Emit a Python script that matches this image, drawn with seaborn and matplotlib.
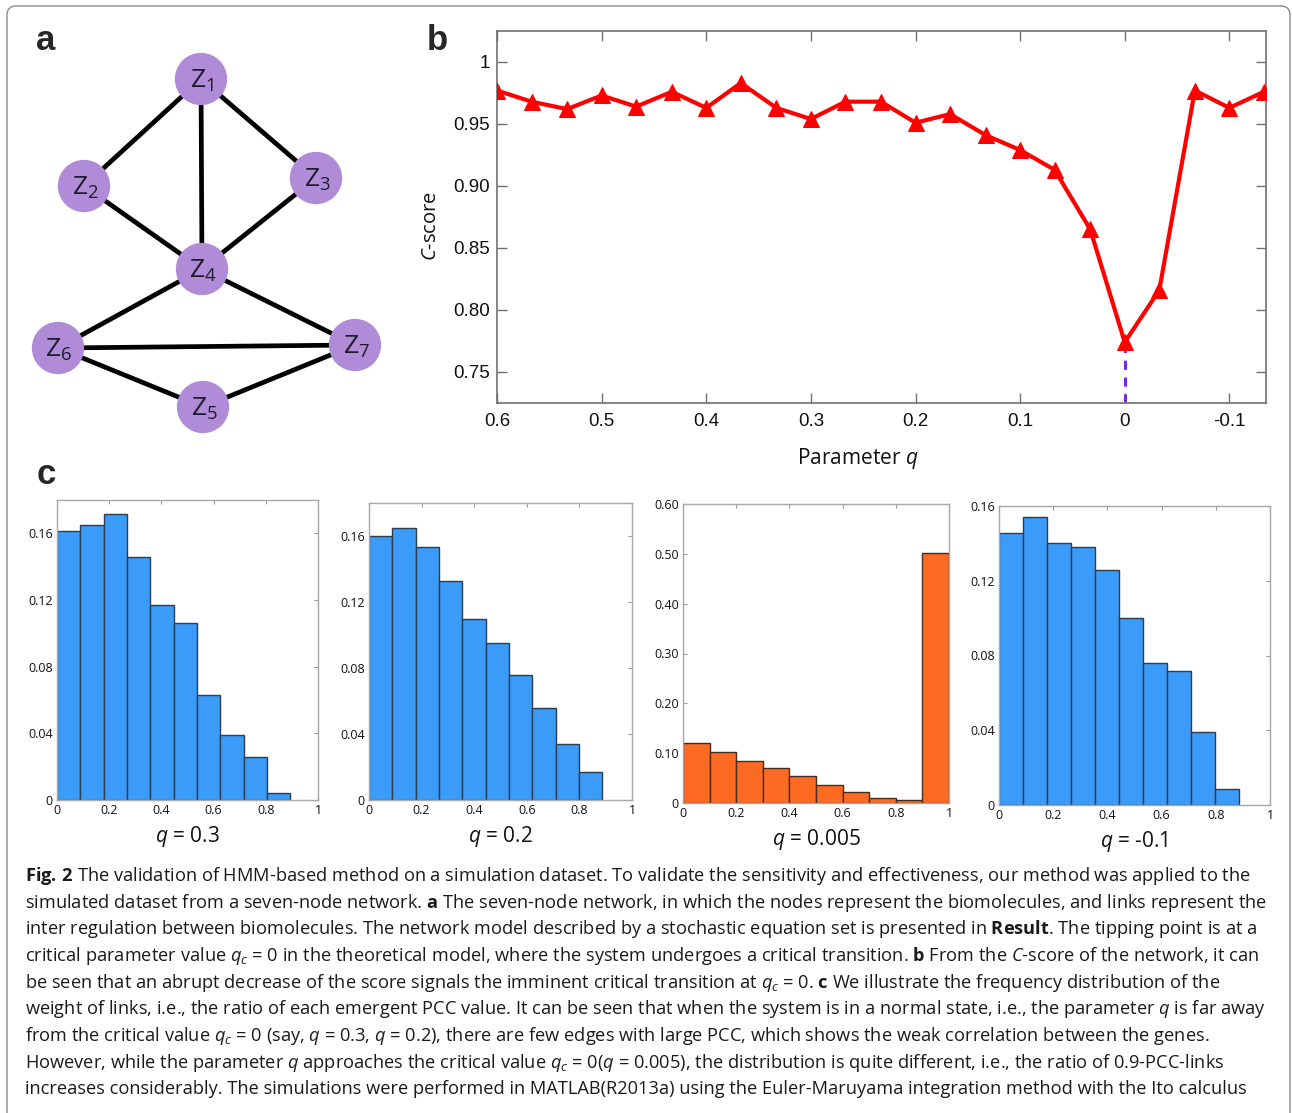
import numpy as np
import pandas as pd
import matplotlib
matplotlib.use("Agg")
import matplotlib.pyplot as plt
import seaborn as sns
from matplotlib.patches import FancyBboxPatch
from matplotlib.transforms import IdentityTransform

# ---------------- data ----------------
node_ids = [1, 2, 3, 4, 5, 6, 7]
node_x = [201, 84, 316, 202, 203, 58, 355]
node_y = [79, 186, 178, 269, 407, 348, 345]
edge_list = [(1, 2), (1, 3), (1, 4), (2, 4), (3, 4), (4, 6), (4, 7), (6, 7), (6, 5), (7, 5)]

q_values = [0.6, 0.567, 0.533, 0.5, 0.467, 0.433, 0.4, 0.367, 0.333, 0.3, 0.267, 0.233,
            0.2, 0.167, 0.133, 0.1, 0.067, 0.033, 0.0, -0.033, -0.067, -0.1, -0.133]
c_score = [0.977, 0.968, 0.962, 0.973, 0.964, 0.976, 0.963, 0.983, 0.963, 0.954, 0.968, 0.968,
           0.951, 0.958, 0.941, 0.929, 0.913, 0.865, 0.774, 0.816, 0.977, 0.963, 0.976]
b_xticks = [0.6, 0.5, 0.4, 0.3, 0.2, 0.1, 0.0, -0.1]
b_xticklabels = ["0.6", "0.5", "0.4", "0.3", "0.2", "0.1", "0", "-0.1"]
b_yticks = [0.75, 0.80, 0.85, 0.90, 0.95, 1.0]
b_yticklabels = ["0.75", "0.80", "0.85", "0.90", "0.95", "1"]

hist_titles = ["0.3", "0.2", "0.005", "-0.1"]
freq_q03 = [0.1616, 0.1652, 0.1718, 0.1460, 0.1170, 0.1063, 0.0629, 0.0388, 0.0260, 0.0042]
freq_q02 = [0.1600, 0.1648, 0.1536, 0.1330, 0.1098, 0.0951, 0.0758, 0.0560, 0.0340, 0.0171]
freq_q0005 = [0.1207, 0.1020, 0.0833, 0.0707, 0.0540, 0.0353, 0.0220, 0.0107, 0.0053, 0.5013]
freq_qm01 = [0.1457, 0.1539, 0.1400, 0.1379, 0.1257, 0.1000, 0.0759, 0.0718, 0.0388, 0.0088]
hist_upper_edge = [0.894, 0.887, 1.0, 0.887]
hist_ylim = [0.18, 0.18, 0.60, 0.16]
hist_yticks = [[0, 0.04, 0.08, 0.12, 0.16], [0, 0.04, 0.08, 0.12, 0.16],
               [0, 0.1, 0.2, 0.3, 0.4, 0.5, 0.6], [0, 0.04, 0.08, 0.12, 0.16]]
hist_yticklabels = [["0", "0.04", "0.08", "0.12", "0.16"], ["0", "0.04", "0.08", "0.12", "0.16"],
                    ["0", "0.10", "0.20", "0.30", "0.40", "0.50", "0.60"],
                    ["0", "0.04", "0.08", "0.12", "0.16"]]
hist_xticks = [0, 0.2, 0.4, 0.6, 0.8, 1.0]
hist_xticklabels = ["0", "0.2", "0.4", "0.6", "0.8", "1"]

caption_lines = [
    r"$\mathbf{Fig.\,2}$ The validation of HMM-based method on a simulation dataset. To validate the sensitivity and effectiveness, our method was applied to the",
    r"simulated dataset from a seven-node network. $\mathbf{a}$ The seven-node network, in which the nodes represent the biomolecules, and links represent the",
    r"inter regulation between biomolecules. The network model described by a stochastic equation set is presented in $\mathbf{Result}$. The tipping point is at a",
    r"critical parameter value $q_c$ = 0 in the theoretical model, where the system undergoes a critical transition. $\mathbf{b}$ From the $\mathit{C}$-score of the network, it can",
    r"be seen that an abrupt decrease of the score signals the imminent critical transition at $q_c$ = 0. $\mathbf{c}$ We illustrate the frequency distribution of the",
    r"weight of links, i.e., the ratio of each emergent PCC value. It can be seen that when the system is in a normal state, i.e., the parameter $q$ is far away",
    r"from the critical value $q_c$ = 0 (say, $q$ = 0.3, $q$ = 0.2), there are few edges with large PCC, which shows the weak correlation between the genes.",
    r"However, while the parameter $q$ approaches the critical value $q_c$ = 0($q$ = 0.005), the distribution is quite different, i.e., the ratio of 0.9-PCC-links",
    r"increases considerably. The simulations were performed in MATLAB(R2013a) using the Euler-Maruyama integration method with the Ito calculus",
]

# ---------------- style ----------------
sns.set_style("ticks")
plt.rcParams["font.family"] = ["Open Sans", "DejaVu Sans"]
plt.rcParams["mathtext.fontset"] = "custom"
plt.rcParams["mathtext.rm"] = "Open Sans"
plt.rcParams["mathtext.it"] = "Open Sans:italic"
plt.rcParams["mathtext.bf"] = "Open Sans:bold"
plt.rcParams["mathtext.sf"] = "Open Sans"
plt.rcParams["axes.unicode_minus"] = False

W, H = 1292, 1113
fig = plt.figure(figsize=(W / 100, H / 100), dpi=100)
fig.patch.set_facecolor("white")


def px_axes(l, t, r, b):
    return fig.add_axes([l / W, 1 - b / H, (r - l) / W, (b - t) / H])


# outer rounded frame
frame = FancyBboxPatch((7, -30), 1283, 1137, boxstyle="round,pad=0,rounding_size=9",
                       transform=IdentityTransform(), facecolor="none",
                       edgecolor="#8a8a8a", linewidth=1.0)
fig.add_artist(frame)

# ---------------- panel a: network ----------------
ax_a = px_axes(0, 0, 420, 450)
pos = {n: (x, y) for n, x, y in zip(node_ids, node_x, node_y)}
for u, v in edge_list:
    ax_a.plot([pos[u][0], pos[v][0]], [pos[u][1], pos[v][1]], color="black",
              lw=3.4, solid_capstyle="butt", zorder=1)
nodes_df = pd.DataFrame({"x": node_x, "y": node_y, "id": node_ids})
sns.scatterplot(data=nodes_df, x="x", y="y", s=1420, color="#b08bd8",
                edgecolor="none", ax=ax_a, zorder=3, legend=False)
for n, x, y in zip(node_ids, node_x, node_y):
    ax_a.text(x + 1, y + 2, r"$\mathrm{Z}_{%d}$" % n, ha="center", va="center",
              fontsize=19, color="#1c1c2c", zorder=4)
ax_a.set_xlim(0, 420)
ax_a.set_ylim(450, 0)
ax_a.axis("off")

# ---------------- panel b: C-score ----------------
ax_b = px_axes(497, 31, 1266, 403)
df_b = pd.DataFrame({"q": q_values, "c": c_score})
sns.lineplot(data=df_b, x="q", y="c", color="#ff0000", lw=3.0, marker="^",
             markersize=12, markeredgecolor="#ff0000", ax=ax_b, zorder=3)
qmin = df_b.loc[df_b["c"].idxmin(), "q"]
cmin = df_b["c"].min()
ax_b.set_xlim(0.6, -0.135)
ax_b.set_ylim(0.725, 1.025)
ax_b.plot([qmin, qmin], [0.725, cmin], color="#7a2be0", lw=2.2, ls=(0, (3, 2.5)), zorder=2)
ax_b.set_xticks(b_xticks)
ax_b.set_xticklabels(b_xticklabels)
ax_b.set_yticks(b_yticks)
ax_b.set_yticklabels(b_yticklabels)
ax_b.tick_params(direction="in", top=True, right=True, length=7, width=1.0,
                 color="#6f6f6f", labelsize=13.5, labelcolor="#111111")
ax_b.tick_params(axis="x", pad=7)
ax_b.tick_params(axis="y", pad=5)
for lab in ax_b.get_xticklabels() + ax_b.get_yticklabels():
    lab.set_family(["Liberation Sans", "DejaVu Sans"])
for sp in ax_b.spines.values():
    sp.set_color("#6f6f6f")
    sp.set_linewidth(1.2)
ax_b.set_xlabel(r"Parameter $q$", fontsize=15, color="#111111")
ax_b.xaxis.set_label_coords((858 - 497) / 769, (403 - 446) / 372)
ax_b.set_ylabel(r"$\mathit{C}$-score", fontsize=14.5, color="#111111")
ax_b.yaxis.set_label_coords((441 - 497) / 769, (403 - 226) / 372)

# ---------------- panel c: histograms ----------------
hist_boxes = [(57, 500, 318, 800), (369, 503, 632, 800), (683, 504, 949, 803), (999, 506, 1270, 805)]
hist_data = [freq_q03, freq_q02, freq_q0005, freq_qm01]
hist_colors = ["#3a9bf8", "#3a9bf8", "#ff6a22", "#3a9bf8"]
hist_edge = ["#2b3d55", "#2b3d55", "#4a2a1a", "#2b3d55"]
for i in range(4):
    ax = px_axes(*hist_boxes[i])
    nb = len(hist_data[i])
    width = hist_upper_edge[i] / nb
    df_h = pd.DataFrame({"pcc": [width * (k + 0.5) for k in range(nb)], "freq": hist_data[i]})
    sns.histplot(data=df_h, x="pcc", weights="freq", bins=nb,
                 binrange=(0, hist_upper_edge[i]), ax=ax,
                 color=hist_colors[i], alpha=1.0, edgecolor=hist_edge[i], linewidth=1.0)
    ax.set_xlim(0, 1)
    ax.set_ylim(0, hist_ylim[i])
    ax.set_xticks(hist_xticks)
    ax.set_xticklabels(hist_xticklabels)
    ax.set_yticks(hist_yticks[i])
    ax.set_yticklabels(hist_yticklabels[i])
    ax.tick_params(direction="in", top=True, right=True, length=3, width=0.8,
                   color="#9a9a9a", labelsize=9, labelcolor="#111111", pad=3)
    for sp in ax.spines.values():
        sp.set_color("#a8a8a8")
        sp.set_linewidth(1.0)
    ax.set_ylabel("")
    ax.set_xlabel(r"$q$ = " + hist_titles[i], fontsize=15, color="#111111", labelpad=5)

# ---------------- panel letters ----------------
for letter, x, y in [("a", 46, 50), ("b", 437, 50), ("c", 46, 484)]:
    fig.text(x / W, 1 - y / H, letter, fontsize=25, fontweight="bold",
             family=["Liberation Sans", "DejaVu Sans"], ha="center", va="baseline")

# ---------------- caption ----------------
baselines = [881 + k * 26.65 for k in range(len(caption_lines))]
cap_texts = []
for line, yb in zip(caption_lines, baselines):
    t = fig.text(25 / W, 1 - yb / H, line, fontsize=12, ha="left", va="baseline",
                 color="#1a1a1a")
    cap_texts.append(t)
renderer = fig.canvas.get_renderer()
w_ref = cap_texts[1].get_window_extent(renderer).width
fs = 12 * 1240 / w_ref
for t in cap_texts:
    t.set_fontsize(fs)

fig.savefig("out.png", dpi=100, facecolor="white")
